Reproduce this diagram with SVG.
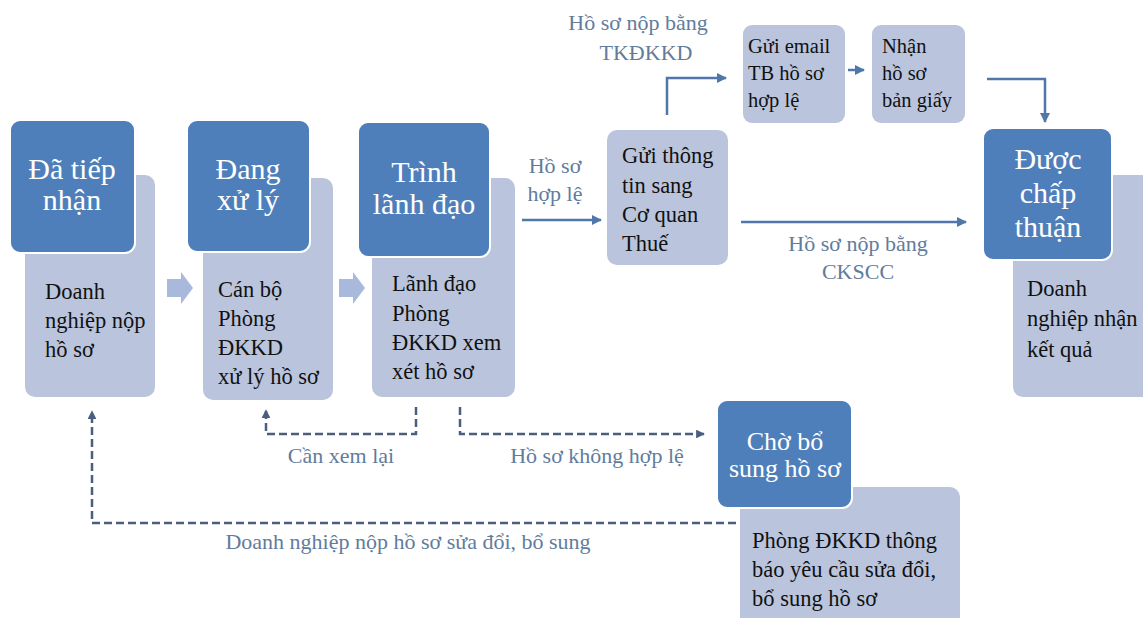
<svg xmlns="http://www.w3.org/2000/svg" width="1143" height="618" viewBox="0 0 1143 618">
<style>
.lt{fill:#bac5dd}
.dk{fill:#4f7fba;stroke:#ffffff;stroke-width:2}
text{font-family:"Liberation Serif","Times New Roman","DejaVu Serif",serif}
.hd{font-size:30px;fill:#ffffff;text-anchor:middle}
.bd{font-size:22.5px;fill:#111111}
.sm{font-size:20.5px;fill:#111111}
.lb{font-size:22px;fill:#617c9c;text-anchor:middle}
.sol{fill:none;stroke:#4f77aa;stroke-width:2.5}
.dsh{fill:none;stroke:#4a5e80;stroke-width:2.5;stroke-dasharray:8 4}
.chev{fill:#a9b9dc}
</style>
<defs>
<marker id="ah" viewBox="0 0 10 10" refX="9" refY="5" markerWidth="4" markerHeight="4" orient="auto" markerUnits="strokeWidth">
<path d="M0,0 L10,5 L0,10 z" fill="#4f77aa"/>
</marker>
<marker id="ahd" viewBox="0 0 10 10" refX="9" refY="5" markerWidth="3.5" markerHeight="3.5" orient="auto" markerUnits="strokeWidth">
<path d="M0,0 L10,5 L0,10 z" fill="#4a5e80"/>
</marker>
</defs>
<rect width="1143" height="618" fill="#ffffff"/>

<g id="connectors">
<path class="chev" d="M167,279 H181 V272 L193,288 L181,304 V297 H167 z"/>
<path class="chev" d="M339,279 H353 V272 L365,288 L353,304 V297 H339 z"/>
<path class="sol" d="M522,220 H601" marker-end="url(#ah)"/>
<path class="sol" d="M667,115 V78 H726" marker-end="url(#ah)"/>
<path class="sol" d="M848,70 H864" marker-end="url(#ah)"/>
<path class="sol" d="M987,79 H1045 V122" marker-end="url(#ah)"/>
<path class="sol" d="M741,222 H966" marker-end="url(#ah)"/>
<path class="dsh" d="M416,407 V434 H266 V410" marker-end="url(#ahd)"/>
<path class="dsh" d="M460,407 V434 H704" marker-end="url(#ahd)"/>
<path class="dsh" d="M736,523 H92 V411" marker-end="url(#ahd)"/>
<text class="lb" x="555" y="173">Hồ sơ</text>
<text class="lb" x="555" y="201">hợp lệ</text>
<text class="lb" x="638" y="30">Hồ sơ nộp bằng</text>
<text class="lb" x="646" y="60">TKĐKKD</text>
<text class="lb" x="858" y="251">Hồ sơ nộp bằng</text>
<text class="lb" x="858" y="279">CKSCC</text>
<text class="lb" x="341" y="463">Cần xem lại</text>
<text class="lb" x="597" y="463">Hồ sơ không hợp lệ</text>
<text class="lb" x="408" y="549">Doanh nghiệp nộp hồ sơ sửa đổi, bổ sung</text>
</g>

<g id="n1">
<rect class="lt" x="25" y="175" width="130" height="222" rx="10"/>
<rect class="dk" x="10" y="120" width="125" height="133" rx="10"/>
<text class="hd" x="72" y="179">Đã tiếp</text>
<text class="hd" x="72" y="210">nhận</text>
<text class="bd" x="45" y="299">Doanh</text>
<text class="bd" x="45" y="328">nghiệp nộp</text>
<text class="bd" x="45" y="357">hồ sơ</text>
</g>

<g id="n2">
<rect class="lt" x="203" y="178" width="130" height="222" rx="10"/>
<rect class="dk" x="187" y="120" width="123" height="132" rx="10"/>
<text class="hd" x="248" y="179">Đang</text>
<text class="hd" x="248" y="210">xử lý</text>
<text class="bd" x="218" y="297">Cán bộ</text>
<text class="bd" x="218" y="326">Phòng</text>
<text class="bd" x="218" y="355">ĐKKD</text>
<text class="bd" x="218" y="384">xử lý hồ sơ</text>
</g>

<g id="n3">
<rect class="lt" x="372" y="178" width="143" height="219" rx="10"/>
<rect class="dk" x="358" y="122" width="132" height="135" rx="10"/>
<text class="hd" x="424" y="182">Trình</text>
<text class="hd" x="424" y="214">lãnh đạo</text>
<text class="bd" x="392" y="291">Lãnh đạo</text>
<text class="bd" x="392" y="321">Phòng</text>
<text class="bd" x="392" y="350">ĐKKD xem</text>
<text class="bd" x="392" y="379">xét hồ sơ</text>
</g>

<g id="n4">
<rect class="lt" x="607" y="130" width="121" height="135" rx="10"/>
<text class="bd" x="622" y="163">Gửi thông</text>
<text class="bd" x="622" y="193">tin sang</text>
<text class="bd" x="622" y="222">Cơ quan</text>
<text class="bd" x="622" y="251">Thuế</text>
</g>

<g id="n5">
<rect class="lt" x="743" y="25" width="102" height="98" rx="9"/>
<text class="sm" x="748" y="53">Gửi email</text>
<text class="sm" x="748" y="80">TB hồ sơ</text>
<text class="sm" x="748" y="107">hợp lệ</text>
</g>

<g id="n6">
<rect class="lt" x="872" y="25" width="93" height="98" rx="9"/>
<text class="sm" x="882" y="53">Nhận</text>
<text class="sm" x="882" y="80">hồ sơ</text>
<text class="sm" x="882" y="107">bản giấy</text>
</g>

<g id="n7">
<rect class="lt" x="1013" y="175" width="145" height="222" rx="10"/>
<rect class="dk" x="983" y="128" width="129" height="132" rx="10"/>
<text class="hd" x="1048" y="169">Được</text>
<text class="hd" x="1048" y="203">chấp</text>
<text class="hd" x="1048" y="237">thuận</text>
<text class="bd" x="1027" y="296">Doanh</text>
<text class="bd" x="1027" y="326">nghiệp nhận</text>
<text class="bd" x="1027" y="357">kết quả</text>
</g>

<g id="n8">
<rect class="lt" x="740" y="487" width="220" height="145" rx="10"/>
<rect class="dk" x="717" y="400" width="135" height="108" rx="10"/>
<text class="hd" x="785" y="450" style="font-size:26px">Chờ bổ</text>
<text class="hd" x="785" y="477" style="font-size:26px">sung hồ sơ</text>
<text class="bd" x="752" y="548">Phòng ĐKKD thông</text>
<text class="bd" x="752" y="577">báo yêu cầu sửa đổi,</text>
<text class="bd" x="752" y="606">bổ sung hồ sơ</text>
</g>
</svg>
